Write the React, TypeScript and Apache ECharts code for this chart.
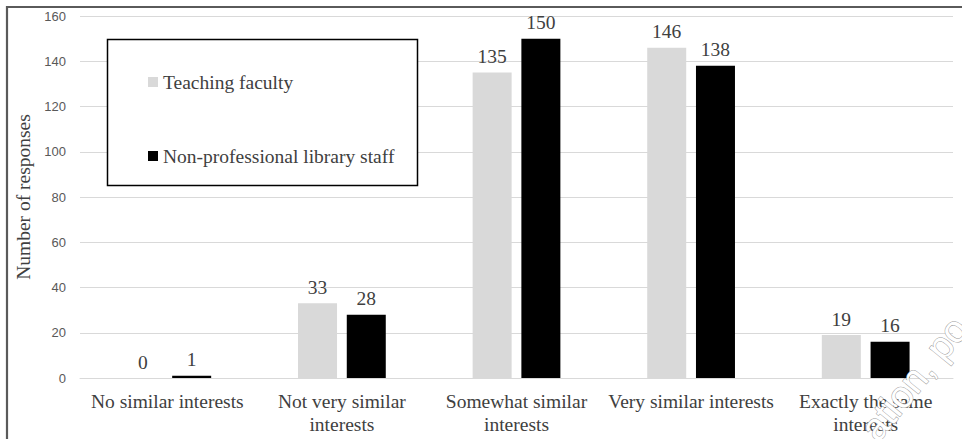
import React, { useEffect, useRef } from "react";
import * as echarts from "echarts";

const categories = [
  "No similar interests",
  "Not very similar\ninterests",
  "Somewhat similar\ninterests",
  "Very similar interests",
  "Exactly the same\ninterests",
];
const teachingFaculty = [0, 33, 135, 146, 19];
const nonProfessionalStaff = [1, 28, 150, 138, 16];
const seriesNames = ["Teaching faculty", "Non-professional library staff"];
const yTicks = { min: 0, max: 160, interval: 20 };

const SERIF = "'Liberation Serif', 'Times New Roman', serif";
const SANS = "'Liberation Sans', Arial, sans-serif";
const FS = 19.5;

export default function App() {
  const ref = useRef<HTMLDivElement>(null);
  useEffect(() => {
    if (!ref.current) return;
    const chart = echarts.init(ref.current, null, { renderer: "svg" });
    const labelStyle = {
      show: true,
      position: "top" as const,
      distance: 6,
      fontFamily: SERIF,
      fontSize: FS,
      color: "#404040",
    };
    chart.setOption({
      animation: false,
      backgroundColor: "#ffffff",
      grid: { left: 80, right: 9, top: 16, bottom: 61, containLabel: false },
      legend: {
        orient: "vertical",
        left: 143,
        top: 66,
        itemWidth: 10,
        itemHeight: 10,
        itemGap: 52,
        icon: "rect",
        z: 10,
        textStyle: { fontFamily: SERIF, fontSize: FS, color: "#404040", lineHeight: 22 },
        data: seriesNames,
      },
      xAxis: {
        type: "category",
        data: categories,
        axisLine: { show: true, lineStyle: { color: "#d9d9d9", width: 1 } },
        axisTick: { show: false },
        axisLabel: {
          interval: 0,
          margin: 12,
          fontFamily: SERIF,
          fontSize: FS,
          lineHeight: 23,
          color: "#404040",
        },
      },
      yAxis: {
        type: "value",
        min: yTicks.min,
        max: yTicks.max,
        interval: yTicks.interval,
        name: "Number of responses",
        nameLocation: "middle",
        nameGap: 40,
        nameTextStyle: { fontFamily: SERIF, fontSize: FS, color: "#404040" },
        axisLine: { show: false },
        axisTick: { show: false },
        axisLabel: { fontFamily: SANS, fontSize: 13, color: "#595959", margin: 14 },
        splitLine: { lineStyle: { color: "#d9d9d9", width: 1 } },
      },
      series: [
        {
          name: seriesNames[0],
          type: "bar",
          data: teachingFaculty,
          barWidth: 39,
          barGap: "25%",
          itemStyle: { color: "#d9d9d9" },
          label: labelStyle,
        },
        {
          name: seriesNames[1],
          type: "bar",
          data: nonProfessionalStaff,
          barWidth: 39,
          barGap: "25%",
          itemStyle: { color: "#000000" },
          label: labelStyle,
        },
      ],
      graphic: [
        {
          type: "rect",
          z: 5,
          shape: { x: 107.5, y: 39.5, width: 310, height: 146 },
          style: { fill: "#ffffff", stroke: "#000000", lineWidth: 1.5 },
        },
        {
          type: "rect",
          z: 20,
          silent: true,
          shape: { x: 7, y: 7, width: 980, height: 460 },
          style: { fill: "none", stroke: "#5a5a5a", lineWidth: 2.2 },
        },
        {
          type: "text",
          z: 30,
          silent: true,
          x: 883,
          y: 447,
          rotation: 0.89,
          style: {
            text: "ation, po",
            fontFamily: SANS,
            fontSize: 38,
            fill: "#ffffff",
            stroke: "#a0a0a0",
            lineWidth: 1,
            textAlign: "left",
            textVerticalAlign: "bottom",
          },
        },
      ],
    });
    return () => chart.dispose();
  }, []);
  return (
    <div
      ref={ref}
      style={{ position: "fixed", left: 0, top: 0, width: 962, height: 439, background: "#fff" }}
    />
  );
}
